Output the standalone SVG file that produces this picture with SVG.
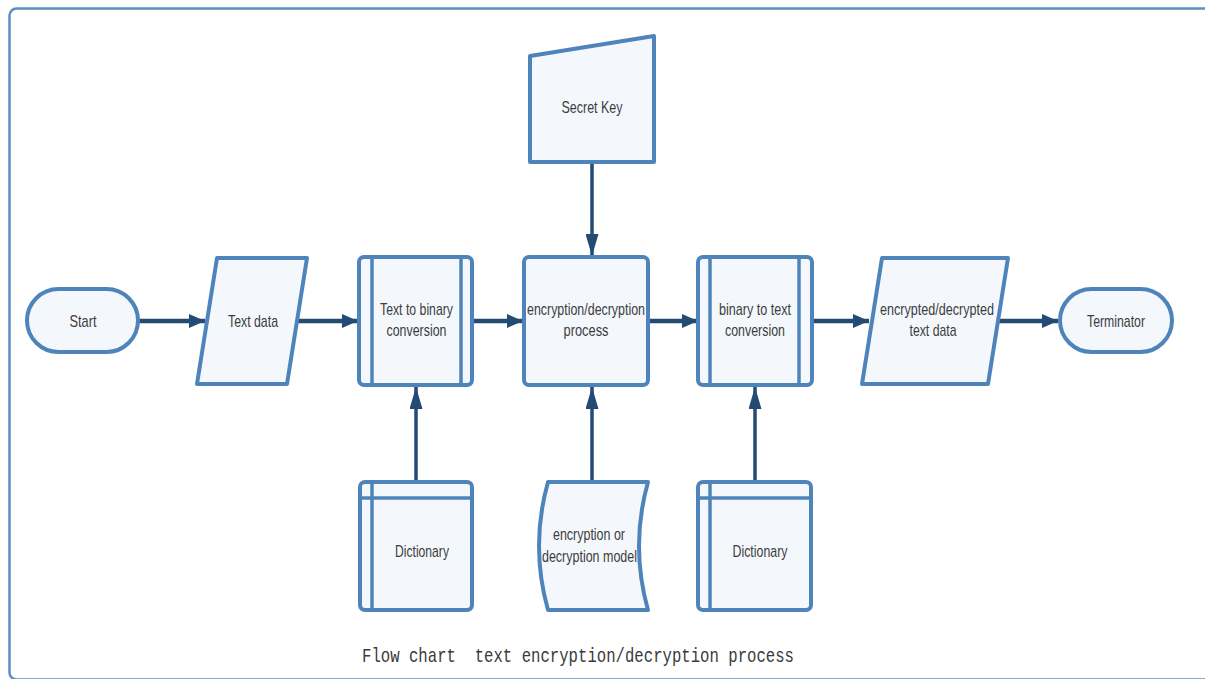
<svg xmlns="http://www.w3.org/2000/svg" width="1205" height="679" viewBox="0 0 1205 679">
  <style>
    .shape { fill: #f4f8fd; stroke: #4f84ba; stroke-width: 4; stroke-linejoin: round; }
    .inner { fill: none; stroke: #4f84ba; stroke-width: 3.5; }
    .label { font-family: "Liberation Sans", "Roboto", sans-serif; font-size: 17px; fill: #3c3c3c; text-anchor: middle; }
    .edge { fill: none; stroke: #234b73; }
    .h { stroke-width: 4.5; }
    .v { stroke-width: 3.5; }
    .caption { font-family: "Liberation Mono", "DejaVu Sans Mono", monospace; font-size: 21px; fill: #3a3a3a; }
  </style>
  <defs>
    <marker id="arrowH" viewBox="0 0 16 14" refX="16" refY="7" markerWidth="16" markerHeight="14" markerUnits="userSpaceOnUse" orient="auto">
      <path d="M0,0 L16,7 L0,14 Z" fill="#234b73"/>
    </marker>
    <marker id="arrowV" viewBox="0 0 22 13" refX="22" refY="6.5" markerWidth="22" markerHeight="13" markerUnits="userSpaceOnUse" orient="auto">
      <path d="M0,0 L22,6.5 L0,13 Z" fill="#234b73"/>
    </marker>
  </defs>

  <rect width="1205" height="679" fill="#ffffff"/>
  <!-- page frame -->
  <rect x="9.5" y="8.5" width="1230" height="671" rx="7" fill="none" stroke="#5d8fc3" stroke-width="2.5"/>

  <!-- connectors -->
  <g id="connectors">
    <line class="edge h" x1="138" y1="321" x2="205" y2="321" marker-end="url(#arrowH)"/>
    <line class="edge h" x1="297" y1="321" x2="358" y2="321" marker-end="url(#arrowH)"/>
    <line class="edge h" x1="473" y1="321" x2="523" y2="321" marker-end="url(#arrowH)"/>
    <line class="edge h" x1="648" y1="321" x2="698" y2="321" marker-end="url(#arrowH)"/>
    <line class="edge h" x1="812" y1="321" x2="869" y2="321" marker-end="url(#arrowH)"/>
    <line class="edge h" x1="998" y1="321" x2="1058" y2="321" marker-end="url(#arrowH)"/>
    <line class="edge v" x1="592" y1="162" x2="592" y2="256" marker-end="url(#arrowV)"/>
    <line class="edge v" x1="416" y1="482" x2="416" y2="387" marker-end="url(#arrowV)"/>
    <line class="edge v" x1="592" y1="482" x2="592" y2="387" marker-end="url(#arrowV)"/>
    <line class="edge v" x1="755" y1="482" x2="755" y2="387" marker-end="url(#arrowV)"/>
  </g>

  <!-- terminator: Start -->
  <g id="start">
    <rect class="shape" x="27" y="289" width="111" height="63" rx="31.5"/>
    <text class="label" x="83" y="327" textLength="27" lengthAdjust="spacingAndGlyphs">Start</text>
  </g>

  <!-- input: Text data -->
  <g id="text-data">
    <path class="shape" d="M217,258 L307,258 L287,384 L197,384 Z"/>
    <text class="label" x="253" y="327" textLength="50" lengthAdjust="spacingAndGlyphs">Text data</text>
  </g>

  <!-- predefined process: Text to binary conversion -->
  <g id="text-to-binary">
    <rect class="shape" x="359" y="257" width="113" height="128" rx="5"/>
    <line class="inner" x1="372" y1="257" x2="372" y2="385"/>
    <line class="inner" x1="461" y1="257" x2="461" y2="385"/>
    <text class="label" x="416.5" y="315" textLength="73" lengthAdjust="spacingAndGlyphs">Text to binary</text>
    <text class="label" x="416.5" y="336" textLength="60" lengthAdjust="spacingAndGlyphs">conversion</text>
  </g>

  <!-- process: encryption/decryption -->
  <g id="enc-dec-process">
    <rect class="shape" x="524" y="257" width="124" height="128" rx="5"/>
    <text class="label" x="586" y="315" textLength="118" lengthAdjust="spacingAndGlyphs">encryption/decryption</text>
    <text class="label" x="586" y="336" textLength="45" lengthAdjust="spacingAndGlyphs">process</text>
  </g>

  <!-- predefined process: binary to text conversion -->
  <g id="binary-to-text">
    <rect class="shape" x="698" y="257" width="114" height="128" rx="5"/>
    <line class="inner" x1="710" y1="257" x2="710" y2="385"/>
    <line class="inner" x1="799" y1="257" x2="799" y2="385"/>
    <text class="label" x="755" y="315" textLength="72" lengthAdjust="spacingAndGlyphs">binary to text</text>
    <text class="label" x="755" y="336" textLength="60" lengthAdjust="spacingAndGlyphs">conversion</text>
  </g>

  <!-- output: encrypted/decrypted text data -->
  <g id="result-data">
    <path class="shape" d="M882,258 L1008,258 L988,384 L862,384 Z"/>
    <text class="label" x="937" y="315" textLength="114" lengthAdjust="spacingAndGlyphs">encrypted/decrypted</text>
    <text class="label" x="933" y="336" textLength="47" lengthAdjust="spacingAndGlyphs">text data</text>
  </g>

  <!-- terminator: end -->
  <g id="terminator">
    <rect class="shape" x="1060" y="289" width="112" height="63" rx="31.5"/>
    <text class="label" x="1116" y="327" textLength="58" lengthAdjust="spacingAndGlyphs">Terminator</text>
  </g>

  <!-- manual input: Secret Key -->
  <g id="secret-key">
    <path class="shape" d="M530,56 L654,36 L654,162 L530,162 Z"/>
    <text class="label" x="592" y="113" textLength="61" lengthAdjust="spacingAndGlyphs">Secret Key</text>
  </g>

  <!-- internal storage: Dictionary (left) -->
  <g id="dictionary-1">
    <rect class="shape" x="360" y="482" width="112" height="128" rx="5"/>
    <line class="inner" x1="372" y1="482" x2="372" y2="610"/>
    <line class="inner" x1="360" y1="498" x2="472" y2="498"/>
    <text class="label" x="422" y="557" textLength="54" lengthAdjust="spacingAndGlyphs">Dictionary</text>
  </g>

  <!-- stored data: encryption or decryption model -->
  <g id="model">
    <path class="shape" d="M548,482 L648,482 Q630,546 648,610 L548,610 Q530,546 548,482 Z"/>
    <text class="label" x="589" y="540" textLength="72" lengthAdjust="spacingAndGlyphs">encryption or</text>
    <text class="label" x="589.5" y="562" textLength="95" lengthAdjust="spacingAndGlyphs">decryption model</text>
  </g>

  <!-- internal storage: Dictionary (right) -->
  <g id="dictionary-2">
    <rect class="shape" x="698" y="482" width="113" height="128" rx="5"/>
    <line class="inner" x1="710" y1="482" x2="710" y2="610"/>
    <line class="inner" x1="698" y1="498" x2="811" y2="498"/>
    <text class="label" x="760" y="557" textLength="55" lengthAdjust="spacingAndGlyphs">Dictionary</text>
  </g>

  <text class="caption" x="362" y="662" textLength="432" lengthAdjust="spacingAndGlyphs" xml:space="preserve">Flow chart  text encryption/decryption process</text>
</svg>
